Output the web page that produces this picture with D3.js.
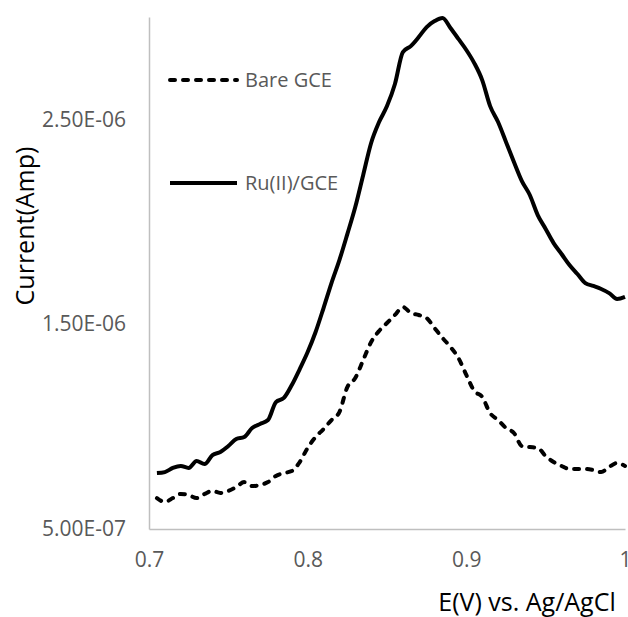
<!DOCTYPE html>
<html>
<head>
<meta charset="utf-8">
<script src="https://cdn.jsdelivr.net/npm/d3@7"></script>
<style>
  body { margin: 0; background: #fff; }
  svg text { font-family: "Open Sans", sans-serif; fill: #595959; }
</style>
</head>
<body>
<div id="chart"></div>
<script>
// potential (V vs Ag/AgCl)
var potential = [0.705,0.710,0.715,0.720,0.725,0.730,0.735,0.740,0.745,0.750,
                 0.755,0.760,0.765,0.770,0.775,0.780,0.785,0.790,0.795,0.800,
                 0.805,0.810,0.815,0.820,0.825,0.830,0.835,0.840,0.845,0.850,
                 0.855,0.860,0.865,0.870,0.875,0.880,0.885,0.890,0.895,0.900,
                 0.905,0.910,0.915,0.920,0.925,0.930,0.935,0.940,0.945,0.950,
                 0.955,0.960,0.965,0.970,0.975,0.980,0.985,0.990,0.995,1.000];

// currents in microamps
var bareGCE = [0.651,0.632,0.651,0.671,0.666,0.651,0.671,0.686,0.676,0.686,
               0.705,0.729,0.710,0.715,0.729,0.759,0.773,0.783,0.827,0.896,
               0.949,0.988,1.032,1.071,1.193,1.237,1.325,1.413,1.467,1.506,
               1.545,1.584,1.555,1.545,1.530,1.481,1.433,1.389,1.335,1.252,
               1.174,1.145,1.066,1.032,0.993,0.969,0.905,0.900,0.896,0.856,
               0.827,0.808,0.793,0.793,0.793,0.788,0.778,0.803,0.822,0.808];

var ruGCE = [0.773,0.778,0.798,0.808,0.798,0.832,0.817,0.861,0.876,0.905,
             0.939,0.949,0.993,1.013,1.032,1.120,1.140,1.203,1.281,1.364,
             1.462,1.579,1.701,1.813,1.940,2.072,2.229,2.385,2.487,2.565,
             2.673,2.829,2.858,2.902,2.951,2.980,2.995,2.946,2.893,2.839,
             2.775,2.692,2.565,2.487,2.390,2.292,2.199,2.131,2.033,1.965,
             1.896,1.843,1.789,1.745,1.701,1.687,1.672,1.652,1.623,1.633];

var xTicks = [0.7, 0.8, 0.9, 1.0];
var xTickLabels = ["0.7", "0.8", "0.9", "1"];
var yTicks = [0.5, 1.5, 2.5];
var yTickLabels = ["5.00E-07", "1.50E-06", "2.50E-06"];

var seriesNames = ["Bare GCE", "Ru(II)/GCE"];

var width = 628, height = 617;
var plot = {left: 149, right: 625, top: 17, bottom: 529};

var svg = d3.select("#chart").append("svg")
    .attr("width", width)
    .attr("height", height);

var x = d3.scaleLinear().domain([0.7, 1.0]).range([plot.left, plot.right]);
var y = d3.scaleLinear().domain([0.5, 3.0]).range([plot.bottom, plot.top]);

// x axis
var xAxis = svg.append("g")
    .attr("transform", "translate(0," + plot.bottom + ")")
    .call(d3.axisBottom(x)
        .tickValues(xTicks)
        .tickSize(0)
        .tickSizeOuter(0)
        .tickPadding(23)
        .tickFormat((d, i) => xTickLabels[i]));
xAxis.select(".domain").attr("stroke", "#bfbfbf").attr("stroke-width", 1.5);
xAxis.selectAll("text").attr("font-size", "21px").style("fill", "#595959");

// y axis
var yAxis = svg.append("g")
    .attr("transform", "translate(" + plot.left + ",0)")
    .call(d3.axisLeft(y)
        .tickValues(yTicks)
        .tickSize(0)
        .tickSizeOuter(0)
        .tickPadding(23)
        .tickFormat((d, i) => yTickLabels[i]));
yAxis.select(".domain").attr("stroke", "#bfbfbf").attr("stroke-width", 1.5);
yAxis.selectAll("text").attr("font-size", "21px").style("fill", "#595959");

// axis titles
svg.append("text")
    .attr("transform", "translate(34,226) rotate(-90)")
    .attr("text-anchor", "middle")
    .attr("font-size", "25px")
    .style("fill", "#000")
    .text("Current(Amp)");

svg.append("text")
    .attr("x", 527)
    .attr("y", 611)
    .attr("text-anchor", "middle")
    .attr("font-size", "25px")
    .style("fill", "#000")
    .text("E(V) vs. Ag/AgCl");

// lines
var line = d3.line()
    .x((d, i) => x(potential[i]))
    .y(d => y(d))
    .curve(d3.curveMonotoneX);

svg.append("path")
    .datum(bareGCE)
    .attr("d", line)
    .attr("fill", "none")
    .attr("stroke", "#000")
    .attr("stroke-width", 4)
    .attr("stroke-linecap", "round")
    .attr("stroke-dasharray", "5,8");

svg.append("path")
    .datum(ruGCE)
    .attr("d", line)
    .attr("fill", "none")
    .attr("stroke", "#000")
    .attr("stroke-width", 4)
    .attr("stroke-linejoin", "round");

// legend
var legend = svg.append("g");
var legendRows = [{name: seriesNames[0], dash: "5,8", y: 80},
                  {name: seriesNames[1], dash: null, y: 183}];

legendRows.forEach(function(r) {
    legend.append("line")
        .attr("x1", 170).attr("x2", 237)
        .attr("y1", r.y).attr("y2", r.y)
        .attr("stroke", "#000")
        .attr("stroke-width", 4)
        .attr("stroke-linecap", r.dash ? "round" : "butt")
        .attr("stroke-dasharray", r.dash);
    legend.append("text")
        .attr("x", 245)
        .attr("y", r.y)
        .attr("dy", "0.35em")
        .attr("font-size", "20px")
        .text(r.name);
});
</script>
</body>
</html>
